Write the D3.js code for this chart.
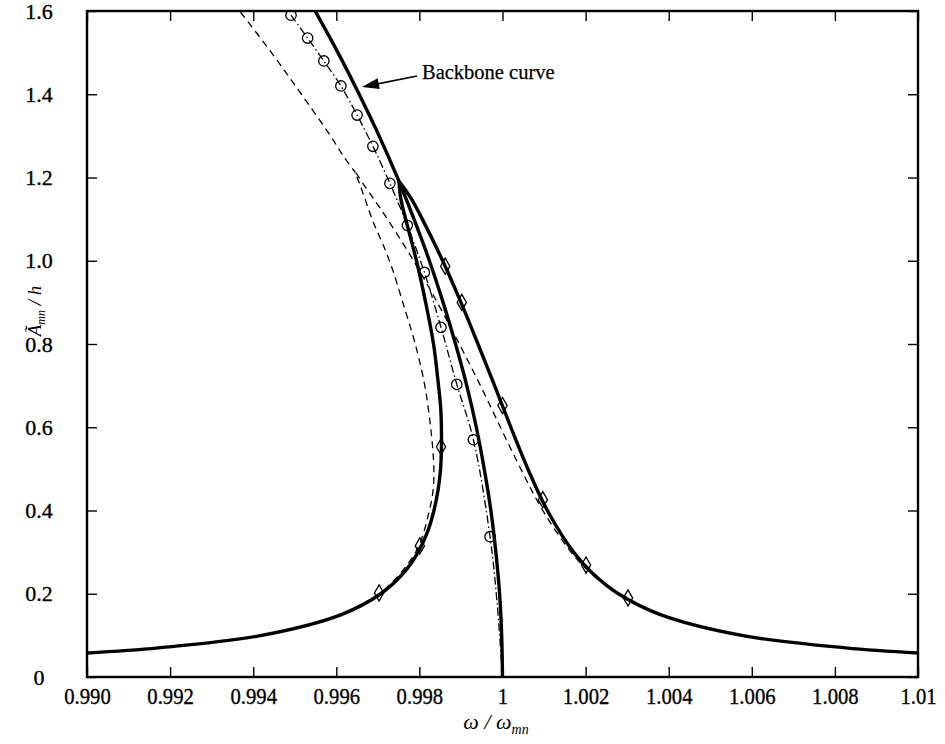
<!DOCTYPE html>
<html><head><meta charset="utf-8">
<script src="https://cdn.jsdelivr.net/npm/d3@7"></script>
<style>body{margin:0;background:#fff} text{white-space:pre;font-family:'Liberation Serif','Times New Roman',serif}</style>
</head><body>
<svg id="c" width="945" height="744"></svg>
<script>
// ---- data ----
const xTicks = [0.990,0.992,0.994,0.996,0.998,1.000,1.002,1.004,1.006,1.008,1.010];
const xTickLabels = ["0.990","0.992","0.994","0.996","0.998","1","1.002","1.004","1.006","1.008","1.01"];
const yTicks = [0,0.2,0.4,0.6,0.8,1.0,1.2,1.4,1.6];
const yTickLabels = ["0","0.2","0.4","0.6","0.8","1.0","1.2","1.4","1.6"];

// solid: backbone curve
const backboneSolid = [[0.99538,1.62],[0.99604,1.50],[0.99655,1.40],[0.99703,1.30],[0.99747,1.20],[0.99787,1.10],
  [0.99824,1.00],[0.99857,0.90],[0.99887,0.80],[0.99914,0.70],[0.99937,0.60],[0.99956,0.50],[0.99972,0.40],
  [0.99984,0.30],[0.99993,0.20],[0.99998,0.10],[1.0000,0]];
// solid: frequency response (left part, up to the peak)
const responseSolidLeft = [[0.98990,0.057],[0.99172,0.070],[0.99420,0.100],[0.99612,0.150],[0.99707,0.200],
  [0.99762,0.250],[0.99797,0.300],[0.99820,0.350],[0.99835,0.400],[0.99845,0.450],[0.99851,0.500],[0.99853,0.550],
  [0.99853,0.600],[0.99851,0.650],[0.99846,0.700],[0.99834,0.800],[0.99815,0.900],[0.99793,1.000],[0.99767,1.100],
  [0.99755,1.150],[0.99751,1.191]];
// solid: frequency response (right part, from the peak)
const responseSolidRight = [[0.99751,1.191],[0.99780,1.150],[0.99807,1.100],[0.99856,1.000],[0.99900,0.900],
  [0.99941,0.800],[0.99981,0.700],[1.00020,0.600],[1.00061,0.500],[1.00108,0.400],[1.00171,0.300],[1.00216,0.250],
  [1.00279,0.200],[1.00380,0.150],[1.00576,0.100],[1.00826,0.070],[1.01010,0.057]];
// dash-dot with circles: backbone of second model
const backboneCircles = [[0.99491,1.590],[0.99531,1.535],[0.99570,1.480],[0.99611,1.420],[0.99650,1.350],
  [0.99688,1.275],[0.99729,1.186],[0.99771,1.085],[0.99812,0.972],[0.99852,0.840],[0.99890,0.703],
  [0.99930,0.570],[0.99970,0.337]];
const backboneCirclesTail = [[0.99987,0.178],[1.0000,0]];
// diamonds: response of second model
const responseDiamonds = [[0.99703,0.202],[0.99801,0.315],[0.99852,0.553],[0.99862,0.987],[0.99902,0.900],
  [1.0000,0.652],[1.00097,0.426],[1.00201,0.269],[1.00302,0.190]];
// dashed: third model backbone and response
const backboneDashed = [[0.99352,1.62],[0.99444,1.50],[0.99516,1.40],[0.99586,1.30],[0.99618,1.25],[0.99646,1.212]];
const responseDashedLeft = [[0.98990,0.057],[0.99176,0.070],[0.99420,0.100],[0.99611,0.150],[0.99704,0.200],
  [0.99791,0.300],[0.99824,0.400],[0.99834,0.460],[0.99834,0.520],[0.99827,0.600],[0.99813,0.700],[0.99790,0.800],
  [0.99760,0.900],[0.99735,0.980],[0.99712,1.040],[0.99690,1.090],[0.99672,1.140],[0.99656,1.185],[0.99646,1.212]];
const responseDashedRight = [[0.99646,1.212],[0.99668,1.180],[0.99689,1.150],[0.99723,1.100],[0.99786,1.000],
  [0.99843,0.900],[0.99896,0.800],[0.99947,0.700],[0.99995,0.600],[1.00044,0.500],[1.00097,0.400],[1.00165,0.300],
  [1.00212,0.250],[1.00276,0.200],[1.00378,0.150],[1.00579,0.100],[1.00826,0.070],[1.01010,0.057]];

// ---- chart ----
const svg = d3.select("#c");
const L = 87, R = 918, T = 11, B = 677;
const x = d3.scaleLinear().domain([0.99,1.01]).range([L,R]);
const y = d3.scaleLinear().domain([0,1.6]).range([B,T]);
const font = "'Liberation Serif','Times New Roman',serif";

svg.append("defs").append("clipPath").attr("id","clip")
  .append("rect").attr("x",L).attr("y",T).attr("width",R-L).attr("height",B-T);

const line = d3.line().x(d=>x(d[0])).y(d=>y(d[1])).curve(d3.curveCatmullRom.alpha(0.5));
const g = svg.append("g").attr("clip-path","url(#clip)");

function path(data, w, dash){
  const p = g.append("path").attr("d",line(data)).attr("fill","none").attr("stroke","#000")
    .attr("stroke-width",w).attr("stroke-linecap","butt");
  if (dash) p.attr("stroke-dasharray",dash);
  return p;
}
path(responseDashedLeft.concat(responseDashedRight.slice(1)), 1.3, "7,5");
path(backboneDashed, 1.3, "7,5");
path(backboneCircles.concat(backboneCirclesTail), 1.3, "8,3,1.5,3");
path(responseSolidLeft, 3.4);
path(responseSolidRight, 3.4);
path(backboneSolid, 3.4);

g.selectAll("circle.m").data(backboneCircles).join("circle").attr("class","m")
  .attr("cx",d=>x(d[0])).attr("cy",d=>y(d[1])).attr("r",5.2)
  .attr("fill","none").attr("stroke","#000").attr("stroke-width",1.3);
g.selectAll("path.dm").data(responseDiamonds).join("path").attr("class","dm")
  .attr("d",d3.symbol(d3.symbolDiamond,75)())
  .attr("transform",d=>`translate(${x(d[0])},${y(d[1])})`)
  .attr("fill","none").attr("stroke","#000").attr("stroke-width",1.3);

// axes with inward ticks
const xb = svg.append("g").attr("transform",`translate(0,${B})`)
  .call(d3.axisBottom(x).tickValues(xTicks).tickSize(-10).tickPadding(11).tickFormat((d,i)=>xTickLabels[i]));
const xt = svg.append("g").attr("transform",`translate(0,${T})`)
  .call(d3.axisTop(x).tickValues(xTicks).tickSize(-10).tickFormat(""));
const yl = svg.append("g").attr("transform",`translate(${L},0)`)
  .call(d3.axisLeft(y).tickValues(yTicks).tickSize(-10).tickFormat((d,i)=>yTickLabels[i]));
const yr = svg.append("g").attr("transform",`translate(${R},0)`)
  .call(d3.axisRight(y).tickValues(yTicks).tickSize(-10).tickFormat(""));
[xb,xt,yl,yr].forEach(a=>{
  a.attr("font-family",null);
  a.select(".domain").remove();
  a.selectAll(".tick line").attr("stroke","#000").attr("stroke-width",1.4);
  a.selectAll("text").style("font-family",font).attr("fill","#000")
    .attr("stroke","#000").attr("stroke-width",0.35);
});
xb.selectAll(".tick text").attr("font-size",23).attr("transform","scale(0.9,1)");
yl.selectAll(".tick text").attr("font-size",22).attr("text-anchor","middle").attr("x",-48);

svg.append("rect").attr("x",L).attr("y",T).attr("width",R-L).attr("height",B-T)
  .attr("fill","none").attr("stroke","#000").attr("stroke-width",2.4);

// axis titles
const xt2 = svg.append("text").attr("x",496).attr("y",729).attr("text-anchor","middle")
  .style("font-family",font).attr("font-size",22).attr("font-style","italic");
xt2.append("tspan").text("ω / ω");
xt2.append("tspan").text("mn").attr("font-size",14).attr("dy",5);

const yt = svg.append("text").attr("transform",`translate(41,311) rotate(-90)`).attr("text-anchor","middle")
  .style("font-family",font).attr("font-size",19).attr("font-style","italic");
yt.append("tspan").text("Ã");
yt.append("tspan").text("mn").attr("font-size",12).attr("dy",4);
yt.append("tspan").text(" / h").attr("dy",-4);

// annotation
svg.append("text").attr("x",422).attr("y",79).style("font-family",font).attr("font-size",20.5)
  .attr("stroke","#000").attr("stroke-width",0.25).text("Backbone curve");
const tip = [362,87], tail = [417,76];
const ang = Math.atan2(tip[1]-tail[1], tip[0]-tail[0]);
svg.append("line").attr("x1",tail[0]).attr("y1",tail[1]).attr("x2",tip[0]-12*Math.cos(ang)).attr("y2",tip[1]-12*Math.sin(ang))
  .attr("stroke","#000").attr("stroke-width",1.6);
const hl = 17, hw = 5.5;
const bx = tip[0]-hl*Math.cos(ang), by = tip[1]-hl*Math.sin(ang);
svg.append("polygon").attr("points",[
  [tip[0],tip[1]],
  [bx+hw*Math.sin(ang), by-hw*Math.cos(ang)],
  [bx-hw*Math.sin(ang), by+hw*Math.cos(ang)]].map(p=>p.join(",")).join(" ")).attr("fill","#000");
</script>
</body></html>
